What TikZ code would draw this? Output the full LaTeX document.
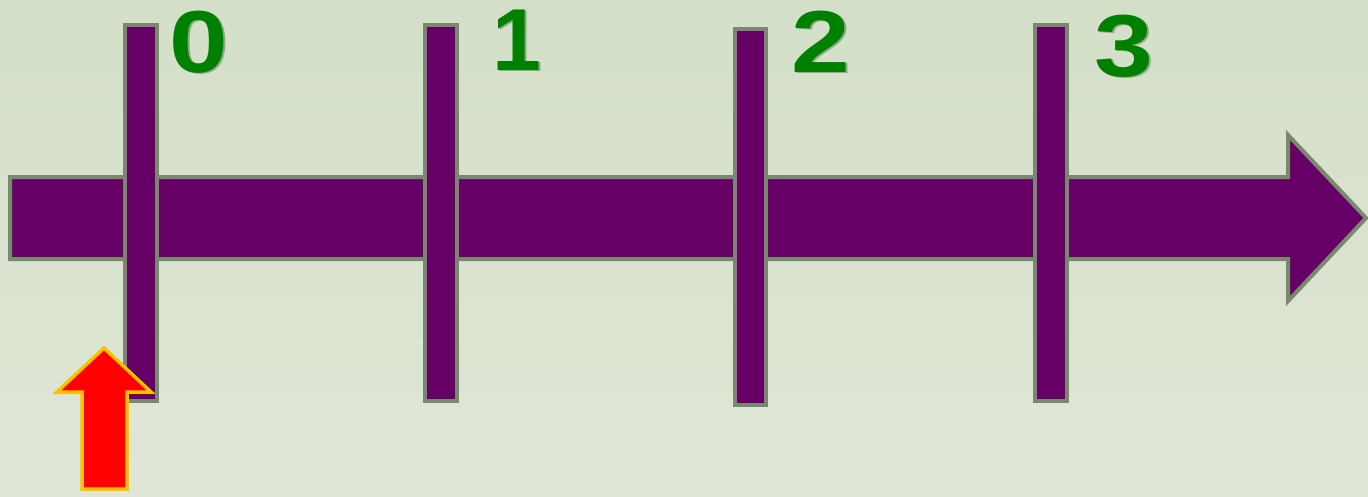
\documentclass[tikz,border=0pt]{standalone}
\usepackage{fontspec}
\setmainfont{Liberation Sans}
\definecolor{bgtop}{HTML}{D4DFC8}
\definecolor{bgbot}{HTML}{DFE6D6}
\definecolor{plum}{HTML}{660066}
\definecolor{edgegray}{HTML}{7A8870}
\definecolor{labgreen}{HTML}{008000}
\definecolor{shadowgreen}{HTML}{0B4A0B}
\definecolor{arrowred}{HTML}{FF0000}
\definecolor{arroworange}{HTML}{FFC000}
\newcommand{\widedigit}[1]{\scalebox{1.2}[1]{#1}}
\tikzset{
  bar/.style={fill=plum, draw=edgegray, line width=4pt, line join=miter},
  numlabel/.style={font=\fontsize{88}{88}\selectfont\bfseries, text=labgreen, anchor=base, inner sep=0pt},
  numshadow/.style={font=\fontsize{88}{88}\selectfont\bfseries, text=shadowgreen, anchor=base, inner sep=0pt, opacity=0.35},
  pointer/.style={fill=arrowred, draw=arroworange, line width=3.5pt, line join=miter}
}
\begin{document}
\begin{tikzpicture}[x=1pt, y=-1pt]
\useasboundingbox (0,0) rectangle (1368,496);
\shade[top color=bgtop, bottom color=bgbot] (0,0) rectangle (1368,496);
% main axis arrow
\draw[bar] (10,177) -- (1288,177) -- (1288,135) -- (1366,218) -- (1288,301) -- (1288,259) -- (10,259) -- cycle;
% ticks
\draw[bar] (125,25) rectangle (157,401);
\draw[bar] (425,25) rectangle (457,401);
\draw[bar] (735,29) rectangle (766,405);
\draw[bar] (1035,25) rectangle (1067,401);
% labels
\node[numshadow] at (200.5,73.5) {\widedigit{0}};
\node[numlabel] (l0) at (199,72) {\widedigit{0}};
\node[numshadow] at (518.5,71.5) {1};
\node[numlabel] (l1) at (517,70) {1};
\node[numshadow] at (822.5,73.5) {\widedigit{2}};
\node[numlabel] (l2) at (821,72) {\widedigit{2}};
\node[numshadow] at (1125.5,77.5) {\widedigit{3}};
\node[numlabel] (l3) at (1124,76) {\widedigit{3}};
% red pointer arrow
\draw[pointer] (104,348) -- (151,392) -- (127,392) -- (127,489) -- (82,489) -- (82,392) -- (57,392) -- cycle;
\end{tikzpicture}
\end{document}
